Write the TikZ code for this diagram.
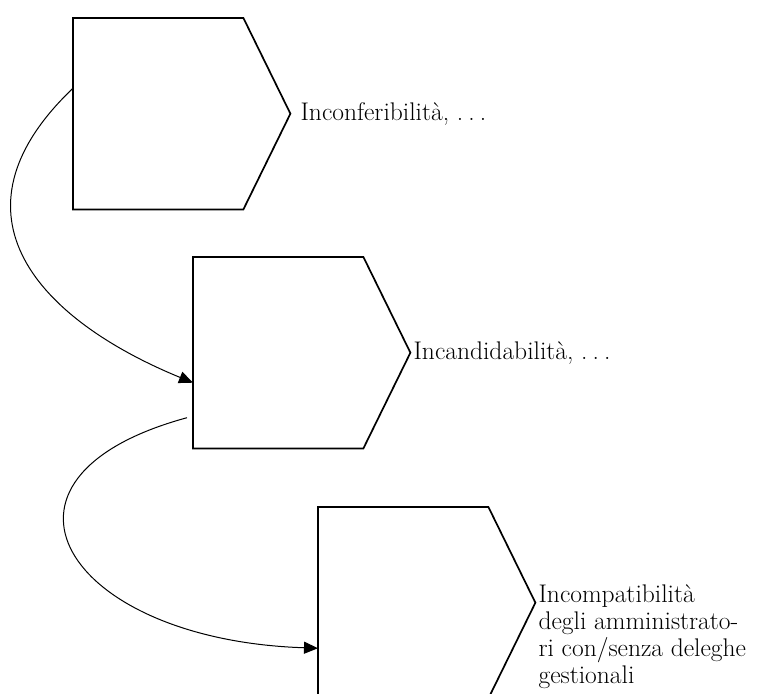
\documentclass[tikz,border=0pt]{standalone}
\usepackage{fontspec}
\usetikzlibrary{calc,arrows.meta}
\newcommand{\spdots}{.\kern0.2em.\kern0.2em.}
\begin{document}
\begin{tikzpicture}[x=1pt,y=-1pt,
  blk/.style={draw=none,inner sep=0pt,minimum width=170pt,minimum height=191pt,anchor=north west},
  outline/.style={line width=1.7pt,line join=miter},
  lbl/.style={inner sep=0pt,font=\fontsize{25.5}{27}\selectfont,align=left},
  conn/.style={line width=1pt,-{Triangle[length=14pt,width=12pt]}}]
\useasboundingbox (0,0) rectangle (759,693);
% boxes
\node[blk] (s1) at (73,18) {};
\node[blk] (s2) at (193,257) {};
\node[blk] (s3) at (318,507) {};
\foreach \s in {s1,s2,s3}{
  \draw[outline] (\s.north west) -- (\s.north east) -- ($(\s.east)+(47,0)$) -- (\s.south east) -- (\s.south west) -- cycle;
}
% labels
\node[lbl,anchor=west] (t1) at ($(s1.east)+(57,0)$) {Inconferibilità, \spdots};
\node[lbl,anchor=west] (t2) at ($(s2.east)+(50,0)$) {Incandidabilità, \spdots};
\node[lbl,anchor=north west] (t3) at ($(s3.east)+(50,-18)$) {Incompatibilità\\degli amministrato-\\ri con/senza deleghe\\gestionali};
% connector ends
\coordinate (c1s) at ($(s1.west)+(0,-25.5)$);
\coordinate (c1e) at ($(s2.west)+(0,30)$);
\coordinate (c2s) at ($(s2.west)+(-6,65)$);
\coordinate (c2e) at ($(s3.west)+(0,45.5)$);
\draw[conn] (c1s) .. controls (-60,215) and (40,320) .. (c1e);
\draw[conn] (c2s) .. controls (-35,478) and (65,640) .. (c2e);
\end{tikzpicture}
\end{document}
